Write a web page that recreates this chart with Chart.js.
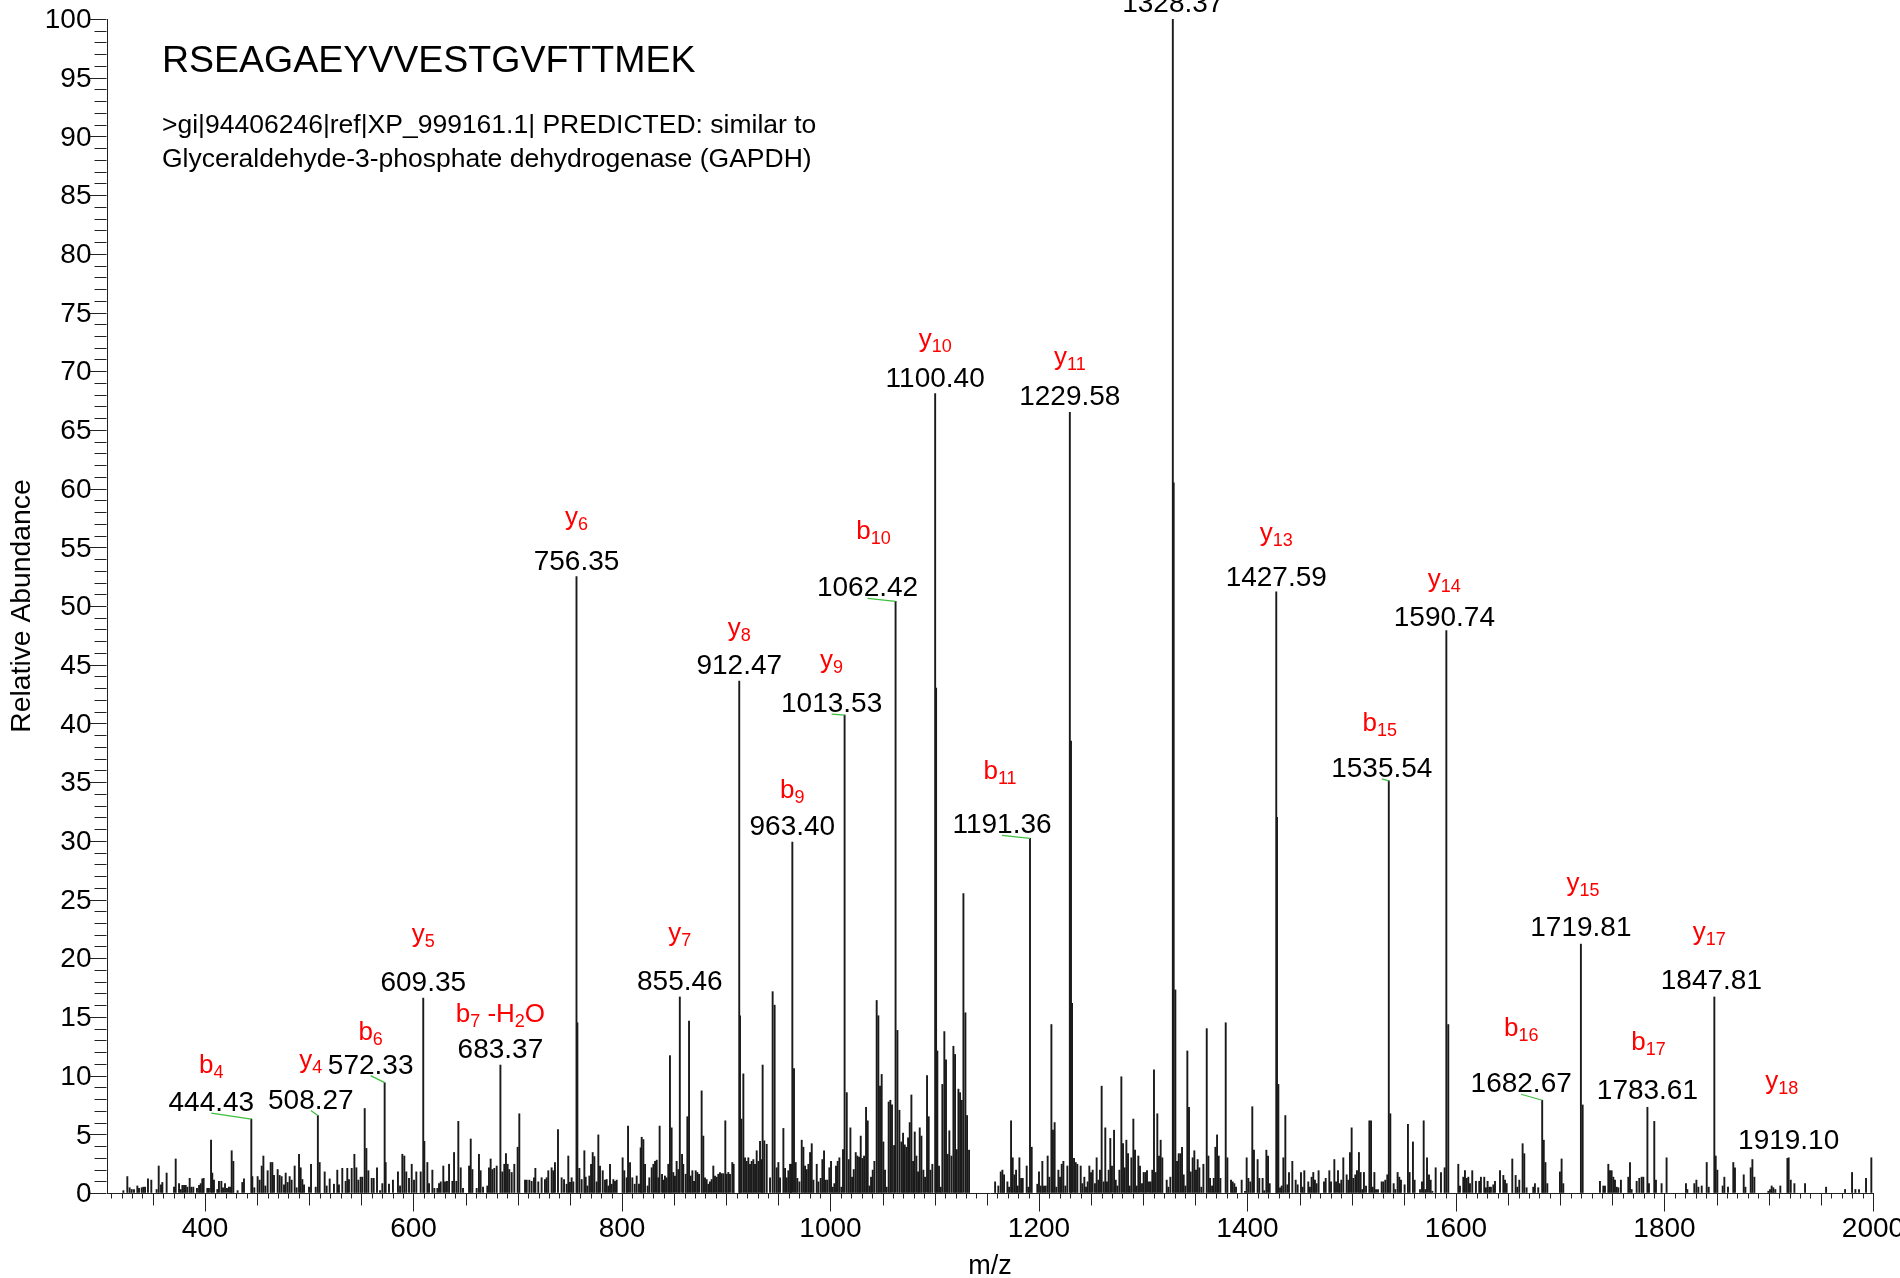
<!DOCTYPE html>
<html><head><meta charset="utf-8">
<script src="https://cdn.jsdelivr.net/npm/chart.js@4/dist/chart.umd.min.js"></script>
<style>html,body{margin:0;padding:0;background:#fff;overflow:hidden}canvas{display:block}</style>
</head><body>
<canvas id="c" width="1900" height="1278"></canvas>
<script>
// ---------------- DATA ----------------
const peptideSequence = 'RSEAGAEYVVESTGVFTTMEK';
const proteinDescription = ['>gi|94406246|ref|XP_999161.1| PREDICTED: similar to',
                            'Glyceraldehyde-3-phosphate dehydrogenase (GAPDH)'];
const xAxisTitle = 'm/z';
const yAxisTitle = 'Relative Abundance';
const xTickLabels = [400, 600, 800, 1000, 1200, 1400, 1600, 1800, 2000];
const yTickLabels = [0,5,10,15,20,25,30,35,40,45,50,55,60,65,70,75,80,85,90,95,100];

// annotated fragment ions
const labeledMz = [444.43, 508.27, 572.33, 609.35, 683.37, 756.35, 855.46, 912.47, 963.40, 1013.53, 1062.42, 1100.40,
                   1191.36, 1229.58, 1328.37, 1427.59, 1535.54, 1590.74, 1682.67, 1719.81, 1783.61, 1847.81, 1919.10];
const labeledIntensity = [6.3, 6.6, 9.4, 16.6, 10.9, 52.5, 16.7, 43.6, 29.9, 40.7, 50.4, 68.1,
                          30.2, 66.5, 100, 51.2, 35.1, 47.9, 7.9, 21.2, 7.3, 16.7, 3.0];
const ionNames = ['b_4','y_4','b_6','y_5','b_7 -H_2O','y_6','y_7','y_8','b_9','y_9','b_10','y_10',
                  'b_11','y_11','','y_13','b_15','y_14','b_16','y_15','b_17','y_17','y_18'];

// other spectrum peaks [m/z, relative abundance]
const peaks300to500 = [[321.7,0.2],[325.5,1.4],[327.7,0.45],[329.7,0.3],[331.9,0.3],[335.1,0.6],[336.7,0.4],[339.3,0.45],[340.9,0.5],[342.5,0.5],[345.3,1.2],[348.5,1.1],[353.6,0.3],[355.6,2.3],[357.8,0.7],[359.1,0.9],[363.2,1.7],[370.3,0.5],[371.9,2.9],[375.1,0.8],[376.7,0.3],[378.3,0.65],[379.9,0.65],[381.5,0.65],[383.1,0.5],[385.3,1.25],[386.9,0.5],[388.8,0.5],[392.3,0.4],[394.3,0.65],[395.9,0.8],[397.4,1.2],[398.7,1.25],[402.2,0.4],[403.8,0.4],[405.8,4.5],[407.0,1.7],[408.6,1.1],[411.8,0.3],[413.4,1.0],[415.7,1.0],[417.3,0.45],[419.2,0.8],[421.1,0.4],[423.0,0.5],[424.6,0.5],[425.6,3.6],[427.2,2.7],[431.3,0.2],[435.8,0.9],[437.4,1.2],[445.4,1.4],[447.3,0.45],[450.5,1.4],[452.4,1.1],[454.4,2.3],[456.0,3.15],[457.9,0.6],[460.1,1.9],[463.0,2.6],[464.6,2.6],[466.2,1.5],[469.7,2.0],[471.6,1.5],[473.5,1.4],[475.8,0.7],[477.4,1.7],[479.3,0.9],[481.2,1.4],[483.1,1.1],[486.0,2.3],[487.9,0.45],[490.2,3.3],[491.8,2.15],[493.4,1.15],[495.0,0.7],[499.8,0.5]];
const peaks500to700 = [[501.7,2.45],[506.2,0.5],[510.0,2.6],[514.8,1.8],[516.7,0.6],[519.6,1.2],[523.7,0.75],[526.9,1.95],[528.5,0.7],[531.7,2.1],[534.9,1.0],[536.5,2.1],[538.1,1.15],[540.7,2.1],[543.3,3.3],[545.2,2.15],[547.1,1.1],[549.3,1.35],[550.9,1.35],[553.2,7.2],[554.8,3.8],[556.7,1.9],[559.9,1.25],[561.8,1.25],[565.0,2.15],[567.9,0.2],[570.1,0.8],[573.3,2.6],[576.5,0.75],[580.3,1.1],[585.1,1.8],[587.1,0.6],[589.3,3.3],[591.2,3.15],[593.1,1.8],[595.7,1.25],[598.3,2.45],[600.5,1.1],[602.7,1.8],[606.9,1.8],[610.4,4.4],[613.3,2.6],[614.9,0.8],[618.1,1.95],[620.0,0.4],[622.9,0.4],[624.5,0.8],[626.1,0.95],[628.6,2.3],[630.2,0.95],[632.1,1.0],[634.1,2.45],[637.3,1.0],[638.9,3.45],[641.1,1.0],[643.0,6.1],[645.3,2.15],[647.5,0.4],[653.3,2.3],[654.9,4.6],[656.5,2.0],[660.6,0.4],[662.8,3.3],[664.4,1.9],[666.7,0.5],[670.8,0.6],[672.4,2.15],[674.0,2.9],[675.6,2.0],[677.5,2.1],[679.8,2.3],[685.2,1.8],[687.1,2.45],[688.7,3.35],[690.3,2.45],[691.9,2.0],[694.2,1.75],[696.7,2.45],[699.9,3.9]];
const peaks700to900 = [[701.5,6.75],[707.0,1.1],[708.6,1.1],[711.1,1.1],[713.3,1.0],[715.6,1.3],[716.9,2.1],[719.7,0.95],[722.9,1.3],[726.1,1.15],[727.7,1.3],[729.3,1.9],[732.5,2.15],[734.1,1.9],[735.7,2.6],[738.6,5.4],[742.1,1.3],[744.4,1.15],[746.9,0.75],[748.5,3.15],[750.1,0.9],[751.7,1.3],[753.3,0.95],[757.2,14.5],[759.1,2.1],[761.3,1.15],[763.9,3.6],[765.2,1.35],[766.8,0.6],[768.7,1.45],[770.3,2.45],[771.9,3.45],[773.5,3.1],[775.7,0.95],[777.3,4.95],[778.9,2.3],[781.5,1.9],[783.7,1.1],[785.3,1.15],[786.9,0.6],[788.5,2.45],[790.1,0.75],[791.7,1.15],[793.3,1.0],[794.9,1.1],[800.6,3.0],[802.2,1.9],[804.5,1.3],[805.8,5.7],[807.7,2.6],[809.9,1.3],[812.2,0.75],[814.1,1.45],[816.3,0.75],[817.9,3.85],[818.9,4.75],[820.5,4.55],[822.1,2.45],[824.6,0.6],[826.2,1.3],[828.5,2.15],[830.1,2.45],[831.7,2.7],[833.3,2.8],[834.9,1.3],[836.1,5.7],[838.4,1.6],[839.6,1.1],[841.2,1.45],[842.8,1.3],[844.4,2.45],[846.0,11.7],[847.6,5.55],[849.2,1.75],[850.8,1.45],[852.4,2.7],[854.0,2.0],[857.6,3.3],[858.8,2.45],[861.1,1.6],[862.7,6.5],[864.3,14.65],[865.9,1.45],[867.5,1.9],[869.1,1.0],[870.7,1.9],[872.3,1.75],[873.9,1.6],[876.4,8.7],[878.0,4.85],[879.6,1.3],[881.2,1.15],[882.8,0.75],[884.4,0.95],[886.0,1.15],[887.6,2.3],[889.2,1.45],[890.8,1.35],[892.4,1.6],[894.0,1.75],[895.6,1.65],[897.2,1.65],[899.1,6.15]];
const peaks900to1100 = [[900.4,1.6],[902.0,1.75],[903.6,1.6],[905.8,2.6],[907.1,2.45],[913.2,15.1],[914.5,6.3],[916.4,10.15],[918.0,3.0],[919.6,2.7],[921.2,3.0],[922.8,2.45],[924.4,2.7],[926.0,2.85],[927.6,2.45],[929.2,3.6],[930.8,2.7],[932.4,4.4],[934.0,2.85],[934.9,10.9],[936.5,4.45],[938.8,4.15],[942.0,1.3],[944.5,17.15],[946.4,16.0],[948.4,2.15],[950.0,2.6],[951.6,1.3],[954.8,5.5],[956.4,2.1],[958.0,1.3],[959.6,1.9],[961.2,2.45],[962.2,2.45],[965.0,10.6],[966.6,2.6],[968.2,1.25],[970.2,0.95],[972.4,4.5],[974.0,3.9],[975.6,2.3],[977.2,2.0],[978.8,2.45],[980.4,3.45],[982.0,4.2],[983.6,1.1],[986.8,2.45],[988.4,0.95],[990.6,1.25],[992.2,2.85],[993.8,3.6],[995.4,1.1],[997.0,1.1],[998.9,2.15],[1000.5,2.7],[1002.1,0.5],[1003.7,0.8],[1005.3,2.3],[1006.9,2.7],[1008.5,3.0],[1010.4,0.5],[1012.0,3.7],[1015.6,8.55],[1017.5,2.85],[1019.1,5.55],[1020.7,1.35],[1022.3,2.0],[1024.2,3.45],[1025.8,3.15],[1027.4,3.05],[1029.0,4.85],[1030.6,2.95],[1032.2,3.15],[1034.1,7.3],[1035.7,6.15],[1037.3,0.6],[1038.9,1.35],[1040.5,1.95],[1042.1,2.7],[1044.3,16.4],[1045.9,15.1],[1047.5,9.1],[1049.1,10.1],[1050.7,4.35],[1052.3,1.95],[1053.9,0.5],[1055.8,7.75],[1057.4,7.9],[1059.0,7.5],[1061.0,4.05],[1064.2,13.85],[1066.1,7.05],[1068.0,4.35],[1069.6,5.1],[1071.2,4.1],[1072.8,3.9],[1074.4,4.7],[1076.0,6.0],[1077.6,8.35],[1079.2,2.7],[1080.8,5.2],[1082.4,3.15],[1084.0,1.8],[1085.6,5.55],[1087.2,4.85],[1089.1,1.95],[1090.7,1.35],[1092.6,10.0],[1094.2,6.5],[1095.8,1.95],[1097.7,2.45]];
const peaks1100to1300 = [[1101.3,43.0],[1102.5,12.1],[1104.1,2.3],[1105.7,0.5],[1107.3,9.25],[1109.2,13.75],[1110.8,11.35],[1112.4,3.3],[1114.0,5.3],[1116.0,3.15],[1117.9,12.5],[1119.5,11.8],[1121.1,3.7],[1122.7,8.85],[1124.3,8.55],[1125.9,7.9],[1127.5,25.5],[1129.4,15.35],[1131.0,6.6],[1132.9,3.65],[1157.9,0.95],[1161.0,0.6],[1163.3,1.8],[1164.9,1.95],[1166.5,1.55],[1169.7,0.95],[1171.3,0.5],[1173.2,6.15],[1174.8,3.0],[1176.4,1.55],[1178.0,1.95],[1179.6,0.6],[1181.2,3.0],[1182.8,1.25],[1184.4,1.25],[1188.2,2.3],[1189.8,0.5],[1193.0,3.9],[1198.4,0.75],[1200.0,1.8],[1201.6,0.6],[1203.2,2.7],[1204.8,0.6],[1206.4,0.6],[1208.3,3.15],[1209.9,1.35],[1211.9,14.35],[1213.4,5.35],[1215.0,6.0],[1216.6,0.5],[1218.6,1.95],[1220.2,1.35],[1221.8,2.45],[1223.4,2.7],[1225.3,0.6],[1227.2,2.3],[1230.7,38.5],[1231.7,16.15],[1233.6,2.95],[1235.2,2.6],[1236.8,2.45],[1240.0,2.3],[1241.6,0.8],[1243.5,1.35],[1245.1,0.5],[1246.7,0.95],[1248.3,2.3],[1249.9,1.75],[1251.5,1.95],[1253.7,0.8],[1255.3,3.0],[1256.9,1.1],[1258.5,1.95],[1260.1,9.1],[1262.0,0.95],[1263.6,5.55],[1265.2,0.95],[1266.8,1.95],[1268.4,4.65],[1270.0,2.3],[1272.0,5.35],[1273.6,1.1],[1275.2,0.6],[1277.1,1.95],[1279.0,9.9],[1280.6,4.2],[1282.2,2.15],[1283.8,4.5],[1285.4,3.35],[1287.0,0.6],[1288.6,3.0],[1290.5,6.3],[1292.1,3.65],[1293.7,0.6],[1295.3,3.15],[1296.9,2.3],[1298.8,0.8]];
const peaks1300to1500 = [[1300.4,1.75],[1302.0,1.75],[1303.6,1.9],[1305.5,0.95],[1307.1,0.95],[1308.7,1.95],[1310.3,10.5],[1311.9,1.75],[1313.5,6.75],[1315.1,3.15],[1316.7,4.5],[1318.3,3.0],[1322.5,1.1],[1324.1,0.5],[1326.0,1.35],[1329.2,60.5],[1330.8,17.3],[1332.4,2.7],[1334.0,3.35],[1335.6,3.35],[1337.2,3.9],[1338.8,1.55],[1340.4,0.6],[1342.3,12.1],[1343.9,7.3],[1345.5,1.8],[1347.4,3.0],[1349.0,3.6],[1350.6,1.95],[1352.2,2.85],[1353.8,2.15],[1355.7,0.5],[1357.7,2.45],[1360.9,14.0],[1362.5,3.15],[1364.1,1.25],[1366.0,0.6],[1367.6,1.25],[1369.2,3.9],[1370.8,4.95],[1372.4,3.15],[1374.0,1.25],[1379.1,14.5],[1380.7,3.0],[1384.2,1.1],[1385.8,0.95],[1387.4,0.8],[1389.0,0.5],[1394.4,1.1],[1397.6,0.15],[1399.2,3.0],[1400.8,1.25],[1402.7,0.95],[1404.6,7.35],[1406.2,3.65],[1409.7,2.85],[1411.3,1.25],[1414.5,1.25],[1416.1,0.2],[1418.1,3.65],[1419.7,3.15],[1421.3,0.8],[1428.3,32.0],[1429.6,9.25],[1431.2,0.45],[1432.8,0.6],[1434.4,3.0],[1436.3,6.6],[1438.2,0.7],[1439.8,1.75],[1443.0,2.7],[1446.2,1.1],[1448.1,0.7],[1451.3,1.75],[1452.9,0.5],[1454.5,1.9],[1458.3,0.95],[1459.9,0.5],[1461.5,1.35],[1463.1,1.75],[1464.7,1.1],[1466.3,0.8],[1468.2,1.9],[1473.4,0.95],[1475.0,1.25],[1478.5,1.9],[1480.1,0.95],[1483.3,2.85],[1484.9,0.95],[1486.8,1.9],[1488.4,0.8],[1490.0,1.1],[1491.9,3.0],[1495.1,1.55],[1496.7,1.1],[1498.3,3.45],[1499.9,5.55]];
const peaks1500to1700 = [[1501.5,1.25],[1503.4,1.55],[1505.0,1.9],[1506.9,3.45],[1508.5,1.75],[1510.1,0.3],[1511.7,1.75],[1513.7,0.6],[1516.9,6.15],[1518.5,6.15],[1520.1,0.5],[1521.7,1.75],[1523.3,0.3],[1525.2,0.3],[1528.7,0.95],[1530.3,0.95],[1532.2,1.1],[1534.1,1.55],[1537.0,6.75],[1540.2,0.8],[1541.8,0.3],[1544.0,1.75],[1545.6,1.35],[1547.2,1.1],[1550.7,0.7],[1553.9,5.85],[1555.5,1.75],[1558.7,4.35],[1560.3,1.1],[1565.5,0.3],[1567.4,0.95],[1569.0,6.15],[1570.6,0.3],[1572.2,3.0],[1574.1,1.55],[1575.7,1.1],[1577.3,0.15],[1580.5,2.15],[1585.6,1.75],[1589.1,2.15],[1592.6,14.35],[1602.2,2.45],[1603.8,0.6],[1607.0,1.35],[1608.6,1.9],[1610.2,1.25],[1611.8,1.35],[1613.4,0.8],[1615.6,1.9],[1619.1,1.0],[1622.3,1.0],[1623.9,1.35],[1627.1,1.35],[1628.7,0.45],[1630.3,1.0],[1631.9,0.5],[1633.5,0.5],[1635.8,0.7],[1637.4,1.0],[1642.2,1.9],[1645.4,1.5],[1647.0,1.1],[1648.6,0.8],[1654.0,2.9],[1657.2,1.5],[1658.8,0.5],[1660.7,1.1],[1663.9,4.2],[1665.5,3.35],[1667.7,0.45],[1674.1,0.5],[1675.7,0.8],[1678.9,0.45],[1684.2,4.5],[1685.8,2.6],[1687.6,0.8],[1699.7,1.8]];
const peaks1700to2000 = [[1701.3,2.9],[1702.9,0.8],[1721.5,7.5],[1738.1,1.0],[1741.3,0.6],[1742.9,0.6],[1746.1,2.45],[1747.7,1.9],[1749.3,1.9],[1750.9,1.35],[1752.5,1.1],[1754.1,0.5],[1755.7,0.45],[1758.2,1.1],[1765.3,1.35],[1766.9,2.6],[1768.5,0.3],[1773.3,1.0],[1775.8,1.25],[1778.1,1.35],[1779.7,1.35],[1785.1,0.8],[1790.2,6.1],[1791.8,1.1],[1797.2,0.8],[1802.0,3.0],[1820.6,0.8],[1821.9,0.3],[1828.6,0.8],[1830.6,1.1],[1832.5,0.5],[1835.7,0.6],[1840.5,2.6],[1842.4,0.5],[1849.1,3.15],[1850.7,1.95],[1855.8,0.6],[1857.4,1.35],[1860.9,0.5],[1866.0,2.6],[1867.6,2.15],[1876.0,1.55],[1877.6,0.5],[1882.7,2.15],[1884.3,2.85],[1886.2,1.35],[1899.6,0.15],[1901.2,0.3],[1902.8,0.6],[1904.4,0.45],[1906.3,0.3],[1911.1,0.6],[1917.9,2.95],[1921.1,1.1],[1924.6,0.8],[1934.8,0.8],[1955.0,0.5],[1973.2,0.3],[1979.9,1.75],[1983.1,0.3],[1986.6,0.3],[1993.3,1.25],[1998.4,3.0]];

// ---------------- LAYOUT (pixels) ----------------
const labelShiftPx = [-40,-7,-14,0,0,0,0,0,0,-13,-28,0,-28,0,0,0,-7,-2,-21,0,0,-3,0];
const labelGapPx   = [8,7,9,7,7,7,7,7,7,3,5,7,5,7,7,6,4,5,8,8,8,8,9];
const ionGapPx     = [38,41,34,49,36,45,49,38,37,44,57,40,54,40,0,45,46,39,56,45,49,49,60];
const ionShiftPx   = [0,0,0,0,0,0,0,0,0,0,6,0,-2,0,0,0,-2,0,0,2,1,-2,-7];

const FONT = '"Liberation Sans", Arial, Helvetica, sans-serif';

const allPeaks = [].concat(peaks300to500, peaks500to700, peaks700to900, peaks900to1100,
  peaks1100to1300, peaks1300to1500, peaks1500to1700, peaks1700to2000,
  labeledMz.map((m, i) => [m, labeledIntensity[i]]))
  .sort((a, b) => a[0] - b[0])
  .map(([m, v]) => ({x: m, y: v}));

function ionSegments(name) {
  const segs = []; const re = /_(\d+)/g; let last = 0, m;
  while ((m = re.exec(name))) {
    if (m.index > last) segs.push({t: name.slice(last, m.index), sub: false});
    segs.push({t: m[1], sub: true});
    last = re.lastIndex;
  }
  if (last < name.length) segs.push({t: name.slice(last), sub: false});
  return segs;
}

function drawIon(ctx, name, cx, base) {
  const segs = ionSegments(name);
  const mainF = '26px ' + FONT, subF = '18px ' + FONT;
  let w = 0;
  segs.forEach(s => { ctx.font = s.sub ? subF : mainF; s.w = ctx.measureText(s.t).width; w += s.w; });
  let x = cx - w / 2;
  ctx.fillStyle = '#ff0000';
  ctx.textAlign = 'left';
  segs.forEach(s => { ctx.font = s.sub ? subF : mainF; ctx.fillText(s.t, x, base + (s.sub ? 5 : 0)); x += s.w; });
}

const annotationPlugin = {
  id: 'peakAnnotations',
  afterDatasetsDraw(chart) {
    const {ctx, scales: {x, y}} = chart;
    ctx.save();
    ctx.textBaseline = 'alphabetic';
    labeledMz.forEach((mz, i) => {
      const px = x.getPixelForValue(mz);
      const py = y.getPixelForValue(labeledIntensity[i]);
      const cx = px + labelShiftPx[i];
      const base = py - labelGapPx[i];
      if (Math.abs(labelShiftPx[i]) >= 5) {
        ctx.strokeStyle = '#3cbf3c'; ctx.lineWidth = 1.2;
        ctx.beginPath(); ctx.moveTo(cx, base + 2); ctx.lineTo(px, py); ctx.stroke();
      }
      ctx.font = '28px ' + FONT;
      ctx.fillStyle = '#000'; ctx.textAlign = 'center';
      ctx.fillText(mz.toFixed(2), cx, base);
      if (ionNames[i]) drawIon(ctx, ionNames[i], cx + ionShiftPx[i], base - ionGapPx[i]);
    });
    ctx.restore();
  }
};

const tickPlugin = {
  id: 'axisTicks',
  afterDraw(chart) {
    const {ctx, scales: {x, y}} = chart;
    ctx.save();
    ctx.strokeStyle = '#222'; ctx.lineWidth = 1;
    const axisY = Math.round(y.getPixelForValue(0)) + 0.5;
    const axisX = Math.round(x.left) - 0.5;
    ctx.beginPath();
    for (let v = 310; v <= 2000; v += 10) {
      const px = Math.round(x.getPixelForValue(v)) + 0.5;
      const len = v % 200 === 0 ? 18 : (v % 50 === 0 ? 12 : 5);
      ctx.moveTo(px, axisY); ctx.lineTo(px, axisY + len);
    }
    for (let v = 0; v <= 100; v += 1) {
      const py = Math.round(y.getPixelForValue(v)) + 0.5;
      const len = v % 5 === 0 ? 17 : 12;
      ctx.moveTo(axisX, py); ctx.lineTo(axisX - len, py);
    }
    ctx.stroke();
    // header text
    ctx.fillStyle = '#000'; ctx.textAlign = 'left'; ctx.textBaseline = 'alphabetic';
    ctx.font = '37.5px ' + FONT;
    ctx.fillText(peptideSequence, 162, 72);
    ctx.font = '26.5px ' + FONT;
    ctx.fillText(proteinDescription[0], 162, 133);
    ctx.fillText(proteinDescription[1], 162, 167);
    ctx.restore();
  }
};

new Chart(document.getElementById('c'), {
  type: 'bar',
  data: { datasets: [{
    data: allPeaks, backgroundColor: '#1a1a1a', borderWidth: 0, barThickness: 1.25, grouped: false
  }]},
  options: {
    responsive: false, animation: false, devicePixelRatio: 1,
    layout: { padding: { left: 0, top: 19, right: 27, bottom: 0 } },
    plugins: { legend: { display: false }, tooltip: { enabled: false } },
    scales: {
      x: {
        type: 'linear', min: 306, max: 2000, offset: false,
        afterBuildTicks: s => { s.ticks = xTickLabels.map(v => ({value: v})); },
        afterFit: s => { s.height = 85; s.paddingLeft = 0; s.paddingRight = 0; },
        grid: { display: true, drawOnChartArea: false, drawTicks: true, tickLength: 18, color: 'rgba(0,0,0,0)' },
        border: { display: true, color: '#222', width: 1 },
        ticks: { font: { family: FONT, size: 28 }, color: '#000', padding: 1.5, maxRotation: 0, autoSkip: false,
                 callback: v => String(v) },
        title: { display: true, text: xAxisTitle, color: '#000', font: { family: FONT, size: 27, lineHeight: 0.85 }, padding: { top: 0, bottom: 0 } }
      },
      y: {
        type: 'linear', min: 0, max: 100,
        afterBuildTicks: s => { s.ticks = yTickLabels.map(v => ({value: v})); },
        afterFit: s => { s.width = 107; s.paddingTop = 0; s.paddingBottom = 0; },
        grid: { display: true, drawOnChartArea: false, drawTicks: true, tickLength: 14, color: 'rgba(0,0,0,0)' },
        border: { display: true, color: '#222', width: 1 },
        ticks: { font: { family: FONT, size: 28 }, color: '#000', padding: 1.5, labelOffset: 1.5, autoSkip: false, callback: v => String(v) },
        title: { display: true, text: yAxisTitle, color: '#000', font: { family: FONT, size: 28.3, lineHeight: 1.2 }, padding: { top: 5, bottom: 0 } }
      }
    }
  },
  plugins: [annotationPlugin, tickPlugin]
});
</script>
</body></html>
